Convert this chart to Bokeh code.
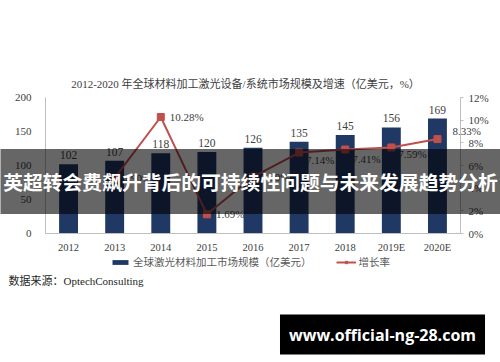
from bokeh.plotting import figure
from bokeh.models import (Range1d, LinearAxis, Legend, LegendItem, Label,
                          FixedTicker, PrintfTickFormatter, ColumnDataSource)
from bokeh.core.properties import value
from bokeh.embed import file_html
from bokeh.resources import INLINE

# ---- data ----
years = ["2012", "2013", "2014", "2015", "2016", "2017", "2018", "2019E", "2020E"]
market = [102, 107, 118, 120, 126, 135, 145, 156, 169]
growth_years = ["2013", "2014", "2015", "2016", "2017", "2018", "2019E", "2020E"]
growth = [4.90, 10.28, 1.69, 5.00, 7.14, 7.41, 7.59, 8.33]
growth_text = ["4.90%", "10.28%", "1.69%", "5.00%", "7.14%", "7.41%", "7.59%", "8.33%"]
left_ticks = [0, 50, 100, 150, 200]
right_ticks = [0, 2, 4, 6, 8, 10, 12]

title_text = "2012-2020 年全球材料加工激光设备/系统市场规模及增速（亿美元，%）"
bar_name = "全球激光材料加工市场规模（亿美元）"
line_name = "增长率"
source_text = "数据来源：OptechConsulting"
banner_text = "英超转会费飙升背后的可持续性问题与未来发展趋势分析"
mark_text = "www.official-ng-28.com"

SERIF = "Liberation Serif, Noto Sans CJK SC"
TXT = "#404040"
BAR = "#203864"
RED = "#C0504D"
AXC = "#BFBFBF"

# ---- layout (pixels) ----
W, H = 500, 362
PL, PR, PT, PB = 45, 460, 97, 233          # plot area in canvas pixels
n = len(years)
ux = (PR - PL) / n                          # px per category
xr = Range1d(-0.5 - PL / ux, n - 0.5 + (W - PR) / ux)
y_max, p_max = left_ticks[-1], right_ticks[-1]
uy = (PB - PT) / y_max
up = (PB - PT) / p_max
yr = Range1d(-(H - PB) / uy, y_max + PT / uy)

p = figure(width=W, height=H, x_range=xr, y_range=yr, output_backend="svg",
           toolbar_location=None, min_border=0)
p.extra_y_ranges = {"pct": Range1d(-(H - PB) / up, p_max + PT / up)}
p.outline_line_color = None
p.xgrid.grid_line_color = None
p.ygrid.grid_line_color = None
p.background_fill_color = "white"
p.border_fill_color = "white"

xpos = list(range(n))
gpos = [years.index(g) for g in growth_years]

# axes (fixed inside the full-canvas frame)
xa = p.xaxis[0]
xa.fixed_location = 0
xa.bounds = (-0.5, n - 0.5)
xa.ticker = FixedTicker(ticks=xpos)
xa.major_label_overrides = {i: y for i, y in zip(xpos, years)}
xa.axis_line_color = AXC
xa.major_tick_line_color = None
xa.minor_tick_line_color = None
xa.major_label_text_font = SERIF
xa.major_label_text_font_size = "10.5px"
xa.major_label_text_color = TXT
xa.major_label_standoff = 2

ya = p.yaxis[0]
ya.fixed_location = -0.5
ya.bounds = (0, y_max)
ya.ticker = FixedTicker(ticks=left_ticks)
ya.axis_line_color = AXC
ya.major_tick_line_color = None
ya.minor_tick_line_color = None
ya.major_label_text_font = SERIF
ya.major_label_text_font_size = "11px"
ya.major_label_text_color = TXT
ya.major_label_standoff = 8

ra = LinearAxis(y_range_name="pct", ticker=FixedTicker(ticks=right_ticks),
                formatter=PrintfTickFormatter(format="%d%%"),
                fixed_location=n - 0.5, bounds=(0, p_max))
ra.axis_line_color = AXC
ra.major_tick_line_color = AXC
ra.major_tick_out = 3
ra.major_tick_in = 0
ra.minor_tick_line_color = None
ra.major_label_text_font = SERIF
ra.major_label_text_font_size = "11px"
ra.major_label_text_color = TXT
ra.major_label_standoff = 5
p.add_layout(ra, "right")

# bars
bars = p.vbar(x=xpos, top=market, width=0.41, fill_color=BAR, line_color=None)
p.text(x=xpos, y=market, text=[str(v) for v in market], text_align="center",
       text_baseline="bottom", y_offset=-5, text_font=value(SERIF),
       text_font_size="11.5px", text_color=TXT)

# growth line
gsrc = ColumnDataSource(dict(x=gpos, y=growth, t=growth_text,
                             dx=[8, 9, 9, 8, 7, 7, 7, 15],
                             dy=[0, 0, 0, 0, 7, 9, 7, -8]))
ln = p.line(x="x", y="y", source=gsrc, y_range_name="pct", line_color=RED, line_width=2)
mk = p.scatter(x="x", y="y", source=gsrc, y_range_name="pct", marker="square",
               size=7, fill_color=RED, line_color=RED)
p.text(x="x", y="y", text="t", source=gsrc, y_range_name="pct", x_offset="dx", y_offset="dy",
       text_align="left", text_baseline="middle", text_font=value(SERIF),
       text_font_size="11px", text_color=TXT)

legend = Legend(items=[LegendItem(label=bar_name, renderers=[bars]),
                       LegendItem(label=line_name, renderers=[ln, mk])],
                orientation="horizontal", location=(110, H - 269),
                glyph_width=20, glyph_height=6, spacing=24, label_standoff=3,
                label_text_font=SERIF, label_text_font_size="10.5px", label_text_color="#595959",
                border_line_color=None, background_fill_alpha=0, padding=2, margin=0)
p.add_layout(legend, "center")

# texts placed on the canvas (screen units: x from left, y from bottom)
p.add_layout(Label(x=245, y=H - 83, x_units="screen", y_units="screen", text=title_text,
                   text_align="center", text_baseline="middle", text_font=SERIF,
                   text_font_size="11px", text_color=TXT))
p.add_layout(Label(x=8, y=H - 280, x_units="screen", y_units="screen", text=source_text,
                   text_align="left", text_baseline="middle", text_font=SERIF,
                   text_font_size="11px", text_color="#262626"))
p.add_layout(Label(x=250, y=H - 181, x_units="screen", y_units="screen", text=banner_text,
                   text_align="center", text_baseline="middle", level="overlay",
                   text_font="Noto Sans CJK SC", text_font_style="bold",
                   text_font_size="19.8px", text_color="white",
                   background_fill_color="black", background_fill_alpha=0.6,
                   padding=18))
p.add_layout(Label(x=382, y=H - 334, x_units="screen", y_units="screen", text=mark_text,
                   text_align="center", text_baseline="middle", level="overlay",
                   text_font="Open Sans", text_font_style="bold",
                   text_font_size="16px", text_color="white",
                   background_fill_color="black", background_fill_alpha=1.0,
                   padding=9))

open("out.html", "w").write(file_html(p, INLINE))
